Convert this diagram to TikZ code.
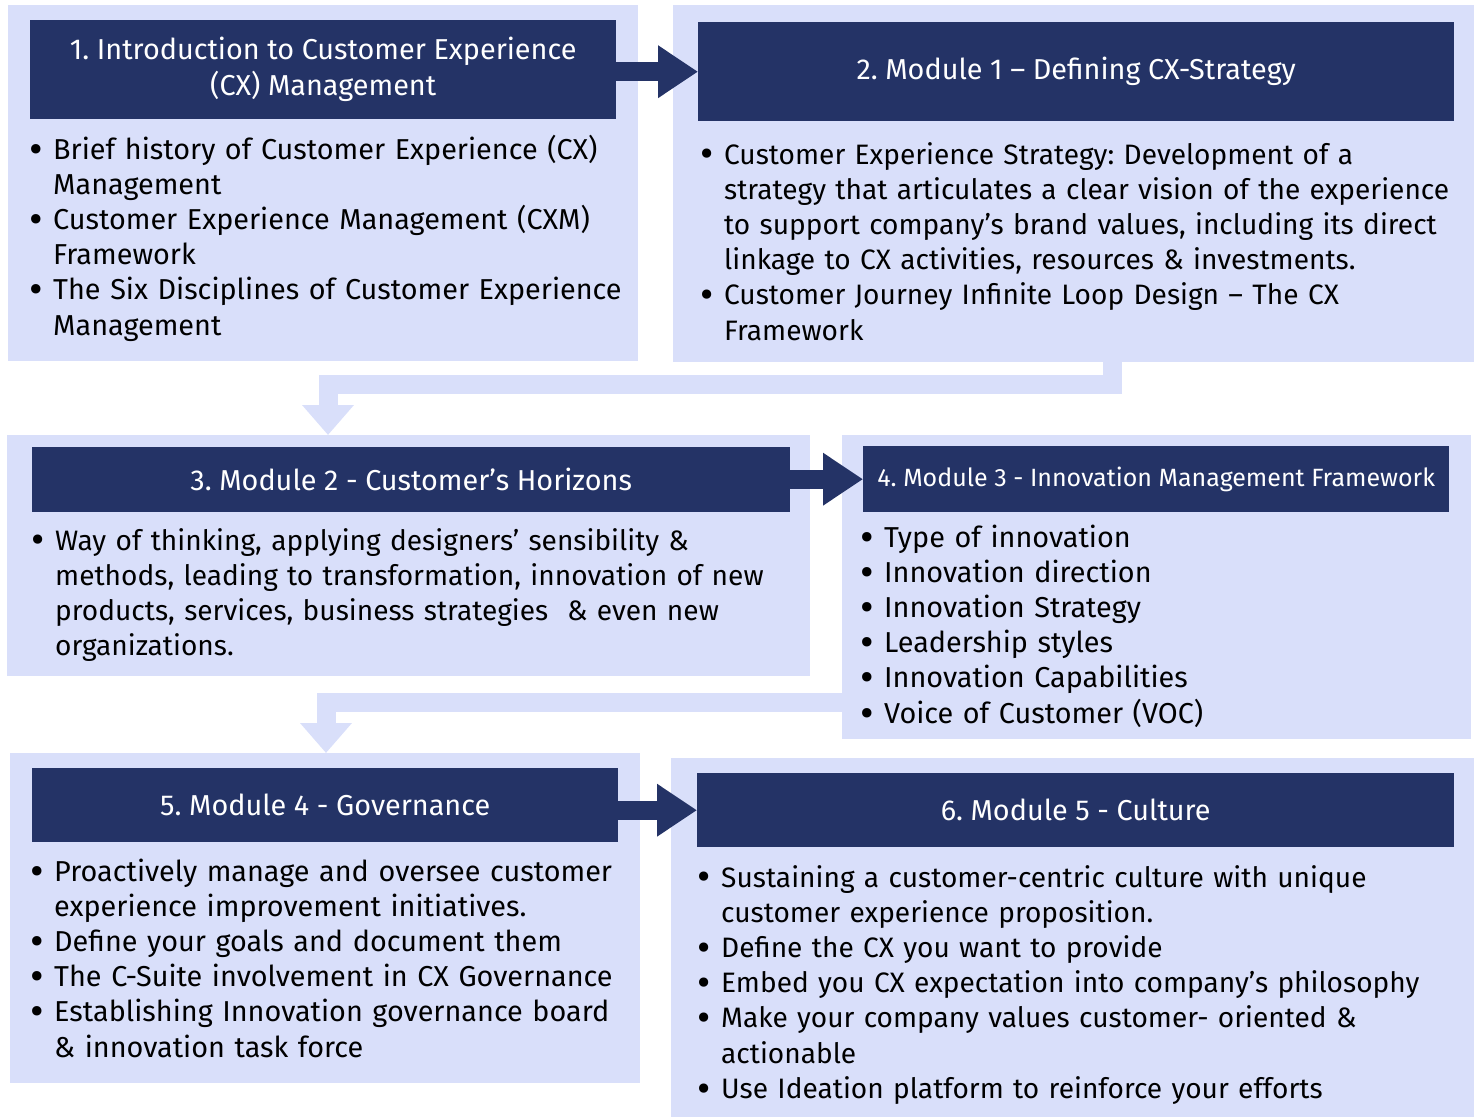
\documentclass[tikz,border=0pt]{standalone}
\usepackage{fontspec}
\setmainfont{Fira Sans}
\usetikzlibrary{arrows.meta,positioning,calc}
\frenchspacing

\definecolor{panelblue}{HTML}{D9DFFA}
\definecolor{headnavy}{HTML}{243366}

% bullets with hanging indent for the module lists
\newcommand{\bulletmark}{\raisebox{-0.14em}{\scalebox{1.45}{\textbullet}}}
\newcommand{\bfirst}{\hangindent=24pt\hangafter=1\noindent\makebox[24pt][l]{\bulletmark}}
\newcommand{\bitem}{\par\bfirst}

\begin{document}
\begin{tikzpicture}[
    x=1pt, y=-1pt,
    panel/.style={rectangle, fill=panelblue, inner sep=0pt, anchor=north west},
    header/.style={rectangle, fill=headnavy, text=white, inner sep=0pt, anchor=north west, align=center, font=\fontsize{28.8}{36}\selectfont},
    bodytext/.style={anchor=base west, inner sep=0pt, text width=780pt, align=left, font=\fontsize{28.8}{35.2}\selectfont},
    narrowtext/.style={bodytext, font=\fontsize{28.1}{35.2}\selectfont},
    stepjoin/.style={draw=headnavy, line width=19pt, -{Triangle[length=40pt,width=50pt]}},
    flowarrow/.style={draw=panelblue, line width=19pt, line join=miter, -{Triangle[length=30pt,width=50pt]}},
]
    \useasboundingbox (0,0) rectangle (1479,1117);

    % Module panels
    \node[panel, minimum width=630pt, minimum height=356pt] (p1) at (8,5) {};
    \node[panel, minimum width=801pt, minimum height=357pt] (p2) at (673,5) {};
    \node[panel, minimum width=803pt, minimum height=241pt] (p3) at (7,435) {};
    \node[panel, minimum width=629pt, minimum height=304pt] (p4) at (842,435) {};
    \node[panel, minimum width=630pt, minimum height=330pt] (p5) at (10,753) {};
    \node[panel, minimum width=803pt, minimum height=359pt] (p6) at (671,758) {};

    % Row changes
    \coordinate (drop1) at (1112,384);
    \coordinate (bend1) at (328,384);
    \coordinate (bend2) at (326,702);
    \draw[flowarrow] (p2.south -| drop1) -- (drop1) -- (bend1) -- (bend1 |- p3.north);
    \draw[flowarrow] (p4.west |- bend2) -- (bend2) -- (bend2 |- p5.north);

    % Module titles
    \node[header, minimum width=586pt, minimum height=99pt] (h1) at (30,20) {1. Introduction to Customer Experience\\(CX) Management};
    \node[header, minimum width=756pt, minimum height=99pt] (h2) at (698,22) {2. Module 1 -- Defining CX-Strategy};
    \node[header, minimum width=758pt, minimum height=65pt] (h3) at (32,447) {3. Module 2 - Customer’s Horizons};
    \node[header, minimum width=586pt, minimum height=66pt, font=\fontsize{25}{30}\selectfont] (h4) at (863,446) {4. Module 3 - Innovation Management Framework};
    \node[header, minimum width=586pt, minimum height=74pt] (h5) at (32,768) {5. Module 4 - Governance};
    \node[header, minimum width=757pt, minimum height=74pt] (h6) at (697,773) {6. Module 5 - Culture};

    \draw[stepjoin] (h1.east |- h2.west) -- (h2.west);
    \draw[stepjoin] (h3.east |- h4.west) -- (h4.west);
    \draw[stepjoin] (h5.east |- h6.west) -- (h6.west);

    % Module contents
    \node[bodytext] (b1) at (29,159) {\bfirst Brief history of Customer Experience (CX)\newline Management
        \bitem Customer Experience Management (CXM)\newline Framework
        \bitem The Six Disciplines of Customer Experience\newline Management\par};
    \node[narrowtext] (b2) at (700,164) {\bfirst Customer Experience Strategy: Development of a\newline strategy that articulates a clear vision of the experience\newline to support company’s brand values, including its direct\newline linkage to CX activities, resources \& investments.
        \bitem Customer Journey Infinite Loop Design -- The CX\newline Framework\par};
    \node[narrowtext] (b3) at (31,550) {\bfirst Way of thinking, applying designers’ sensibility \&\newline methods, leading to transformation, innovation of new\newline products, services, business strategies~ \& even new\newline organizations.\par};
    \node[bodytext] (b4) at (860,547) {\bfirst Type of innovation
        \bitem Innovation direction
        \bitem Innovation Strategy
        \bitem Leadership styles
        \bitem Innovation Capabilities
        \bitem Voice of Customer (VOC)\par};
    \node[bodytext] (b5) at (30,881) {\bfirst Proactively manage and oversee customer\newline experience improvement initiatives.
        \bitem Define your goals and document them
        \bitem The C-Suite involvement in CX Governance
        \bitem Establishing Innovation governance board\newline \& innovation task force\par};
    \node[narrowtext] (b6) at (697,887) {\bfirst Sustaining a customer-centric culture with unique\newline customer experience proposition.
        \bitem Define the CX you want to provide
        \bitem Embed you CX expectation into company’s philosophy
        \bitem Make your company values customer- oriented \&\newline actionable
        \bitem Use Ideation platform to reinforce your efforts\par};
\end{tikzpicture}
\end{document}
